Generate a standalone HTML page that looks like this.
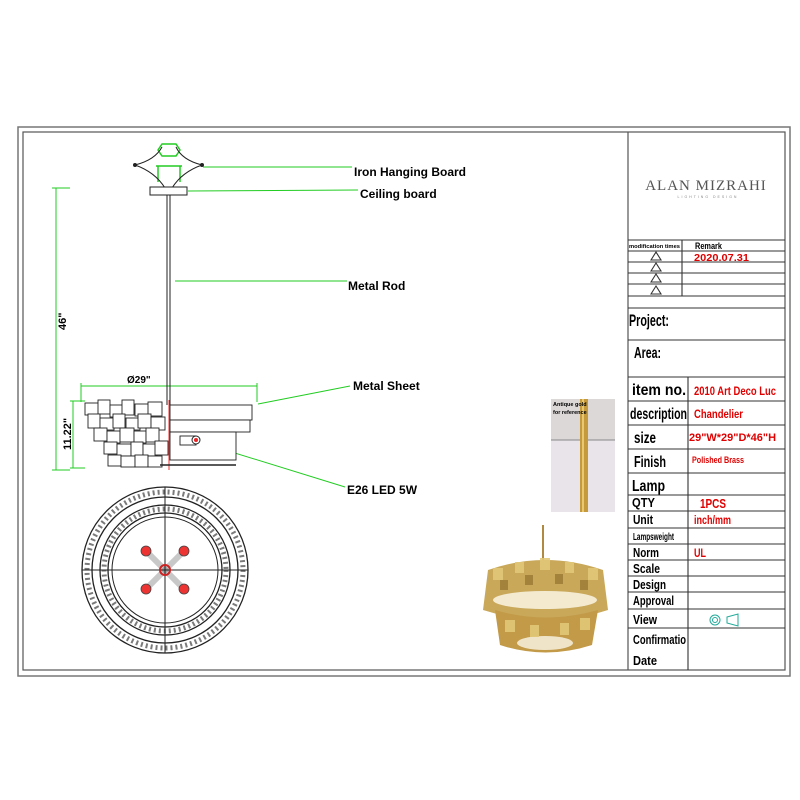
<!DOCTYPE html>
<html><head><meta charset="utf-8"><style>
html,body{margin:0;padding:0;background:#fff;}
svg{display:block;font-family:"Liberation Sans",Arial,sans-serif;}
.t{font-weight:bold;fill:#000;}
.r{fill:#e00000;font-weight:bold;}
</style></head><body>
<svg width="800" height="800" viewBox="0 0 800 800" xmlns="http://www.w3.org/2000/svg">
<rect width="800" height="800" fill="#fff"/>
<rect x="18" y="127" width="772" height="549" fill="none" stroke="#777" stroke-width="1.5"/>
<rect x="23" y="132" width="762" height="538" fill="none" stroke="#555" stroke-width="1.2"/>
<line x1="628" y1="132" x2="628" y2="670" stroke="#555" stroke-width="1.2"/>
<text x="706" y="190" text-anchor="middle" font-family="Liberation Serif,serif" font-size="15" fill="#555" letter-spacing="1">ALAN MIZRAHI</text>
<text x="708" y="198" text-anchor="middle" font-size="3.5" fill="#888" letter-spacing="2">LIGHTING DESIGN</text>
<g stroke="#333" stroke-width="1.1" fill="none">
<line x1="628" y1="240" x2="785" y2="240"/>
<line x1="628" y1="251" x2="785" y2="251"/>
<line x1="628" y1="262" x2="785" y2="262"/>
<line x1="628" y1="273" x2="785" y2="273"/>
<line x1="628" y1="284" x2="785" y2="284"/>
<line x1="628" y1="296" x2="785" y2="296"/>
<line x1="682" y1="240" x2="682" y2="296"/>
<line x1="628" y1="308" x2="785" y2="308"/>
<line x1="628" y1="340" x2="785" y2="340"/>
<line x1="628" y1="377" x2="785" y2="377"/>
<line x1="628" y1="401" x2="785" y2="401"/>
<line x1="628" y1="425" x2="785" y2="425"/>
<line x1="628" y1="449" x2="785" y2="449"/>
<line x1="628" y1="473" x2="785" y2="473"/>
<line x1="628" y1="495" x2="785" y2="495"/>
<line x1="628" y1="511" x2="785" y2="511"/>
<line x1="628" y1="528" x2="785" y2="528"/>
<line x1="628" y1="544" x2="785" y2="544"/>
<line x1="628" y1="560" x2="785" y2="560"/>
<line x1="628" y1="576" x2="785" y2="576"/>
<line x1="628" y1="592" x2="785" y2="592"/>
<line x1="628" y1="609" x2="785" y2="609"/>
<line x1="628" y1="628" x2="785" y2="628"/>
<line x1="688" y1="377" x2="688" y2="670"/>
<path d="M651,260 L656,252 L661,260 Z M651,271 L656,263 L661,271 Z M651,282 L656,274 L661,282 Z M651,294 L656,286 L661,294 Z"/>
</g>
<g>
<text x="629" y="248" font-size="5" class="t" textLength="51" lengthAdjust="spacingAndGlyphs">modification times</text>
<text x="695" y="249" font-size="9" class="t" textLength="27" lengthAdjust="spacingAndGlyphs">Remark</text>
<text x="694" y="261" font-size="10" class="r" textLength="55" lengthAdjust="spacingAndGlyphs">2020.07.31</text>
<text x="629" y="326" font-size="17" class="t" textLength="40" lengthAdjust="spacingAndGlyphs">Project:</text>
<text x="634" y="358" font-size="16" class="t" textLength="27" lengthAdjust="spacingAndGlyphs">Area:</text>
<text x="632" y="395" font-size="16" class="t" textLength="54" lengthAdjust="spacingAndGlyphs">item no.</text>
<text x="630" y="419" font-size="16" class="t" textLength="57" lengthAdjust="spacingAndGlyphs">description</text>
<text x="634" y="443" font-size="16" class="t" textLength="22" lengthAdjust="spacingAndGlyphs">size</text>
<text x="634" y="467" font-size="16" class="t" textLength="32" lengthAdjust="spacingAndGlyphs">Finish</text>
<text x="632" y="491" font-size="16" class="t" textLength="33" lengthAdjust="spacingAndGlyphs">Lamp</text>
<text x="632" y="507" font-size="13" class="t" textLength="23" lengthAdjust="spacingAndGlyphs">QTY</text>
<text x="633" y="524" font-size="13" class="t" textLength="20" lengthAdjust="spacingAndGlyphs">Unit</text>
<text x="633" y="540" font-size="10" class="t" textLength="41" lengthAdjust="spacingAndGlyphs">Lampsweight</text>
<text x="633" y="557" font-size="13" class="t" textLength="26" lengthAdjust="spacingAndGlyphs">Norm</text>
<text x="633" y="573" font-size="13" class="t" textLength="27" lengthAdjust="spacingAndGlyphs">Scale</text>
<text x="633" y="589" font-size="13" class="t" textLength="33" lengthAdjust="spacingAndGlyphs">Design</text>
<text x="633" y="605" font-size="13" class="t" textLength="41" lengthAdjust="spacingAndGlyphs">Approval</text>
<text x="633" y="624" font-size="13" class="t" textLength="24" lengthAdjust="spacingAndGlyphs">View</text>
<text x="633" y="644" font-size="13" class="t" textLength="53" lengthAdjust="spacingAndGlyphs">Confirmatio</text>
<text x="633" y="665" font-size="13" class="t" textLength="24" lengthAdjust="spacingAndGlyphs">Date</text>
<text x="694" y="395" font-size="12" class="r" textLength="82" lengthAdjust="spacingAndGlyphs">2010 Art Deco Luc</text>
<text x="694" y="418" font-size="12" class="r" textLength="49" lengthAdjust="spacingAndGlyphs">Chandelier</text>
<text x="689" y="441" font-size="11" class="r" textLength="87" lengthAdjust="spacingAndGlyphs">29"W*29"D*46"H</text>
<text x="692" y="463" font-size="9" class="r" textLength="52" lengthAdjust="spacingAndGlyphs">Polished Brass</text>
<text x="700" y="508" font-size="13" class="r" textLength="26" lengthAdjust="spacingAndGlyphs">1PCS</text>
<text x="694" y="524" font-size="12" class="r" textLength="37" lengthAdjust="spacingAndGlyphs">inch/mm</text>
<text x="694" y="557" font-size="12" class="r" textLength="12" lengthAdjust="spacingAndGlyphs">UL</text>
</g>
<circle cx="715" cy="620" r="5" fill="none" stroke="#2a9" stroke-width="1"/>
<circle cx="715" cy="620" r="2.5" fill="none" stroke="#2a9" stroke-width="1"/>
<path d="M727,617 L738,614 L738,626 L727,623 Z" fill="none" stroke="#2a9"/>
<rect x="551" y="399" width="64" height="113" fill="#ddd8d8"/>
<rect x="551" y="440" width="64" height="72" fill="#e8e4ea"/>
<line x1="551" y1="440" x2="615" y2="440" stroke="#888"/>
<rect x="580" y="399" width="8" height="113" fill="#c49a3c"/>
<rect x="582" y="399" width="2" height="113" fill="#e8c870"/>
<text x="553" y="406" font-size="5.5" class="t">Antique gold</text>
<text x="553" y="414" font-size="5.5" class="t">for reference</text>
<line x1="543" y1="525" x2="543" y2="566" stroke="#b08a40" stroke-width="2"/>
<path d="M488,570 Q545,550 603,570 L608,610 Q545,630 483,610 Z" fill="#c9a85a"/>
<ellipse cx="545" cy="600" rx="52" ry="9" fill="#f3ead0"/>
<path d="M495,610 Q545,625 598,610 L592,645 Q545,660 500,645 Z" fill="#c29a48"/>
<ellipse cx="545" cy="643" rx="28" ry="7" fill="#efe4c8"/>
<g fill="#e2c878" opacity="0.9">
<rect x="493" y="568" width="10" height="12"/><rect x="515" y="562" width="9" height="11"/><rect x="540" y="558" width="10" height="12"/><rect x="565" y="562" width="9" height="11"/><rect x="588" y="568" width="10" height="12"/>
<rect x="505" y="620" width="10" height="12"/><rect x="530" y="625" width="9" height="12"/><rect x="560" y="623" width="9" height="12"/><rect x="580" y="618" width="10" height="12"/>
</g>
<g fill="#8a6a28" opacity="0.6">
<rect x="500" y="580" width="8" height="10"/><rect x="525" y="575" width="8" height="10"/><rect x="555" y="574" width="8" height="10"/><rect x="580" y="580" width="8" height="10"/>
</g>
<g stroke="#2c2" stroke-width="1" fill="none">
<line x1="203" y1="167" x2="352" y2="167"/>
<line x1="188" y1="191" x2="358" y2="190"/>
<line x1="175" y1="281" x2="347" y2="281"/>
<line x1="258" y1="404" x2="350" y2="386"/>
<line x1="196" y1="441" x2="345" y2="487"/>
<line x1="56" y1="188" x2="56" y2="470"/>
<line x1="52" y1="188" x2="70" y2="188"/>
<line x1="52" y1="470" x2="70" y2="470"/>
<line x1="73" y1="401" x2="73" y2="468"/>
<line x1="70" y1="401" x2="85" y2="401"/>
<line x1="70" y1="468" x2="85" y2="468"/>
<line x1="81" y1="386" x2="257" y2="386"/>
<line x1="81" y1="383" x2="81" y2="402"/>
<line x1="257" y1="383" x2="257" y2="402"/>
<path d="M158,150 L162,144 L176,144 L180,150 L176,156 L162,156 Z M156,166 L182,166 M158,166 L158,182 M180,166 L180,182" stroke-width="1.5"/>
</g>
<text x="66" y="330" font-size="11" class="t" transform="rotate(-90 66 330)">46"</text>
<text x="71" y="450" font-size="11" class="t" transform="rotate(-90 71 450)">11.22"</text>
<text x="127" y="383" font-size="10" class="t">Ø29"</text>
<g stroke="#222" stroke-width="1" fill="none">
<path d="M135,165 Q155,160 162,147 M202,165 Q182,160 176,147 M135,165 Q155,172 165,188 M202,165 Q182,172 172,188"/>
<circle cx="135" cy="165" r="1.5" fill="#222"/><circle cx="202" cy="165" r="1.5" fill="#222"/>
<rect x="150" y="187" width="37" height="8" fill="#fff"/>
<line x1="167" y1="195" x2="167" y2="405"/>
<line x1="170" y1="195" x2="170" y2="405"/>
</g>
<g stroke="#222" stroke-width="0.9" fill="#fff">
<rect x="170" y="405" width="82" height="15"/>
<rect x="170" y="420" width="80" height="12"/>
<rect x="170" y="432" width="66" height="28"/>
<rect x="85" y="403" width="14" height="12"/><rect x="98" y="400" width="12" height="14"/><rect x="110" y="405" width="14" height="12"/><rect x="122" y="400" width="12" height="15"/><rect x="135" y="404" width="14" height="12"/><rect x="148" y="402" width="14" height="14"/>
<rect x="88" y="414" width="12" height="14"/><rect x="100" y="418" width="14" height="12"/><rect x="113" y="414" width="12" height="14"/><rect x="126" y="418" width="14" height="12"/><rect x="138" y="414" width="13" height="14"/><rect x="151" y="417" width="14" height="13"/>
<rect x="94" y="428" width="13" height="13"/><rect x="107" y="431" width="13" height="12"/><rect x="120" y="428" width="14" height="14"/><rect x="134" y="431" width="12" height="12"/><rect x="146" y="428" width="13" height="14"/>
<rect x="104" y="442" width="13" height="12"/><rect x="117" y="444" width="14" height="12"/><rect x="131" y="442" width="12" height="14"/><rect x="143" y="444" width="14" height="12"/><rect x="155" y="441" width="13" height="14"/>
<rect x="108" y="455" width="13" height="11"/><rect x="121" y="456" width="14" height="11"/><rect x="135" y="455" width="13" height="12"/><rect x="148" y="456" width="14" height="11"/>
<rect x="180" y="436" width="16" height="9"/>
</g>
<circle cx="196" cy="440" r="4" fill="#fff" stroke="#222"/>
<circle cx="196" cy="440" r="2" fill="#e22"/>
<line x1="169" y1="400" x2="169" y2="470" stroke="#e33" stroke-width="1"/>
<line x1="160" y1="465" x2="236" y2="465" stroke="#222" stroke-width="1.5"/>
<text x="354" y="176" font-size="12" class="t">Iron Hanging Board</text>
<text x="360" y="198" font-size="12" class="t">Ceiling board</text>
<text x="348" y="290" font-size="12" class="t">Metal Rod</text>
<text x="353" y="390" font-size="12" class="t">Metal Sheet</text>
<text x="347" y="494" font-size="12" class="t">E26 LED 5W</text>
<g stroke="#222" fill="none">
<circle cx="165" cy="570" r="83" stroke-width="1.3"/>
<circle cx="165" cy="570" r="73" stroke-width="1.3"/>
<circle cx="165" cy="570" r="78" stroke-width="5" stroke-dasharray="2 3" stroke-opacity="0.6"/>
<circle cx="165" cy="570" r="65" stroke-width="1.3"/>
<circle cx="165" cy="570" r="57" stroke-width="1.3"/>
<circle cx="165" cy="570" r="61" stroke-width="5" stroke-dasharray="2 3" stroke-opacity="0.6"/>
<circle cx="165" cy="570" r="53" stroke-width="1"/>
<line x1="82" y1="570" x2="248" y2="570" stroke-width="1"/>
<line x1="165" y1="487" x2="165" y2="653" stroke-width="1"/>
<line x1="146" y1="551" x2="184" y2="589" stroke-width="6" stroke-opacity="0.25"/>
<line x1="184" y1="551" x2="146" y2="589" stroke-width="6" stroke-opacity="0.25"/>
<circle cx="165" cy="570" r="5" stroke="#c22" stroke-width="2"/>
</g>
<g fill="#e33" stroke="#444" stroke-width="0.8">
<circle cx="146" cy="551" r="5"/><circle cx="184" cy="551" r="5"/><circle cx="146" cy="589" r="5"/><circle cx="184" cy="589" r="5"/>
</g>
</svg>
</body></html>
